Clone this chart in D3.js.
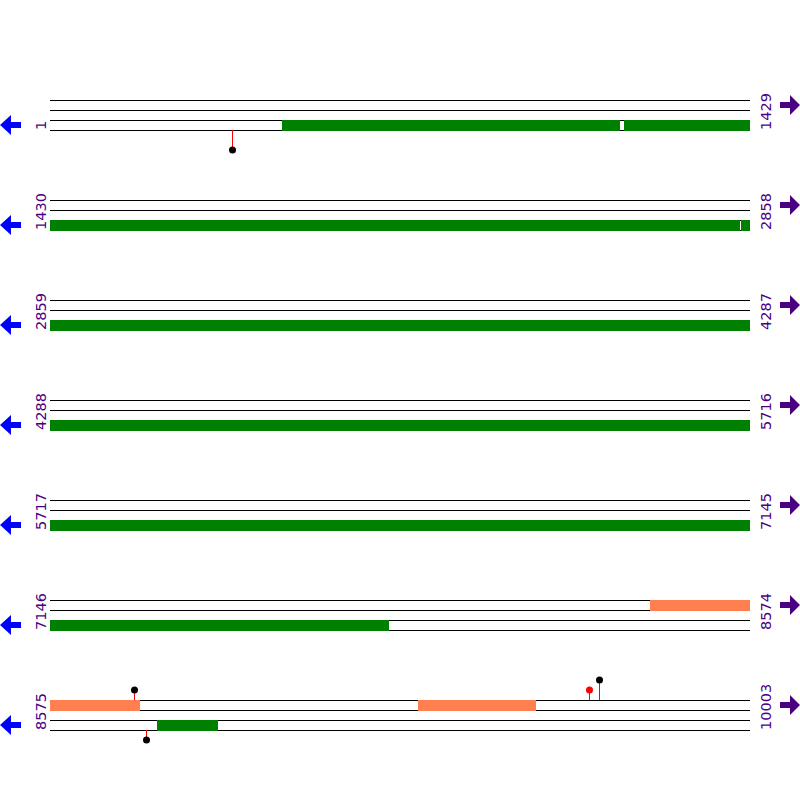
<!DOCTYPE html>
<html>
<head>
<meta charset="utf-8">
<script src="https://cdn.jsdelivr.net/npm/d3@7"></script>
<style>
  html, body { margin: 0; padding: 0; background: #fff; }
</style>
</head>
<body>
<div id="map"></div>
<script>
// sequence map: 7 rows of 1429 positions each
const rowStarts = [1, 1430, 2859, 4288, 5717, 7146, 8575];
const rowLength = 1429;

// features: [start, end] positions, track index (0 = top line)
const greenFeatures = [
  [475, 1163],
  [1173, 2837],
  [2841, 7838],
  [8793, 8917]
];
const coralFeatures = [
  [8371, 8758],
  [9326, 9567]
];
const greenTrack = 2;
const coralTrack = 0;

// lollipop sites: position, side, stem level, dot colour
const sitePos = [373, 8746, 8771, 9675, 9696];
const siteSide = ["below", "above", "below", "above", "above"];
const siteLevel = [2, 1, 1, 1, 2];
const siteColor = ["black", "black", "black", "red", "black"];

const width = 800;
const height = 800;
const left = 50, right = 750;
const top0 = 100, rowGap = 100, trackGap = 10;

const svg = d3.select("#map")
  .append("svg")
  .attr("width", width)
  .attr("height", height);

const rowY = d3.scaleLinear().domain([0, 1]).range([top0, top0 + rowGap]);

rowStarts.forEach((start, i) => {
  const y0 = rowY(i);
  const x = d3.scaleLinear()
    .domain([start, start + rowLength])
    .range([left, right]);
  const end = start + rowLength - 1;
  const g = svg.append("g");

  // track lines
  g.selectAll("line.track")
    .data(d3.range(4))
    .join("line")
    .attr("class", "track")
    .attr("x1", left)
    .attr("x2", right)
    .attr("y1", t => y0 + t * trackGap + 0.5)
    .attr("y2", t => y0 + t * trackGap + 0.5)
    .attr("stroke", "black")
    .attr("stroke-width", 1)
    .attr("shape-rendering", "crispEdges");

  // feature bars clipped to this row
  const drawBars = (feats, track, color) => {
    const inRow = feats
      .filter(f => f[1] >= start && f[0] <= end)
      .map(f => [Math.max(f[0], start), Math.min(f[1], end)]);
    g.selectAll(null)
      .data(inRow)
      .join("rect")
      .attr("x", d => x(d[0]))
      .attr("width", d => x(d[1] + 1) - x(d[0]))
      .attr("y", y0 + track * trackGap)
      .attr("height", 11)
      .attr("fill", color)
      .attr("shape-rendering", "crispEdges");
  };
  drawBars(greenFeatures, greenTrack, "#008000");
  drawBars(coralFeatures, coralTrack, "#FF7F50");

  // lollipops
  const sites = sitePos
    .map((p, k) => ({ p, side: siteSide[k], level: siteLevel[k], color: siteColor[k] }))
    .filter(s => s.p >= start && s.p <= end);
  sites.forEach(s => {
    const cx = Math.round(x(s.p + 0.5));
    const base = s.side === "above" ? y0 : y0 + 3 * trackGap;
    const tip = s.side === "above" ? base - s.level * 10 : base + s.level * 10;
    g.append("line")
      .attr("x1", cx + 0.5).attr("x2", cx + 0.5)
      .attr("y1", base).attr("y2", tip)
      .attr("stroke", "red")
      .attr("stroke-width", 1)
      .attr("shape-rendering", "crispEdges");
    g.append("circle")
      .attr("cx", cx + 0.5)
      .attr("cy", tip)
      .attr("r", 3.5)
      .attr("fill", s.color);
  });

  // position labels
  g.append("text")
    .attr("transform", `translate(46,${y0 + 30}) rotate(-90)`)
    .attr("font-family", "DejaVu Sans, sans-serif")
    .attr("font-size", 14.5)
    .attr("fill", "#4B0082")
    .text(start);
  g.append("text")
    .attr("transform", `translate(771,${y0 + 30}) rotate(-90)`)
    .attr("font-family", "DejaVu Sans, sans-serif")
    .attr("font-size", 14.5)
    .attr("fill", "#4B0082")
    .text(end);

  // strand arrows
  const leftArrow = d3.path();
  leftArrow.moveTo(0, y0 + 25);
  leftArrow.lineTo(11, y0 + 15);
  leftArrow.lineTo(11, y0 + 22);
  leftArrow.lineTo(21, y0 + 22);
  leftArrow.lineTo(21, y0 + 28);
  leftArrow.lineTo(11, y0 + 28);
  leftArrow.lineTo(11, y0 + 35);
  leftArrow.closePath();
  g.append("path").attr("d", leftArrow.toString()).attr("fill", "#0000FF");

  const rightArrow = d3.path();
  rightArrow.moveTo(800, y0 + 5);
  rightArrow.lineTo(790, y0 - 5);
  rightArrow.lineTo(790, y0 + 2);
  rightArrow.lineTo(780, y0 + 2);
  rightArrow.lineTo(780, y0 + 8);
  rightArrow.lineTo(790, y0 + 8);
  rightArrow.lineTo(790, y0 + 15);
  rightArrow.closePath();
  g.append("path").attr("d", rightArrow.toString()).attr("fill", "#4B0082");
});
</script>
</body>
</html>
